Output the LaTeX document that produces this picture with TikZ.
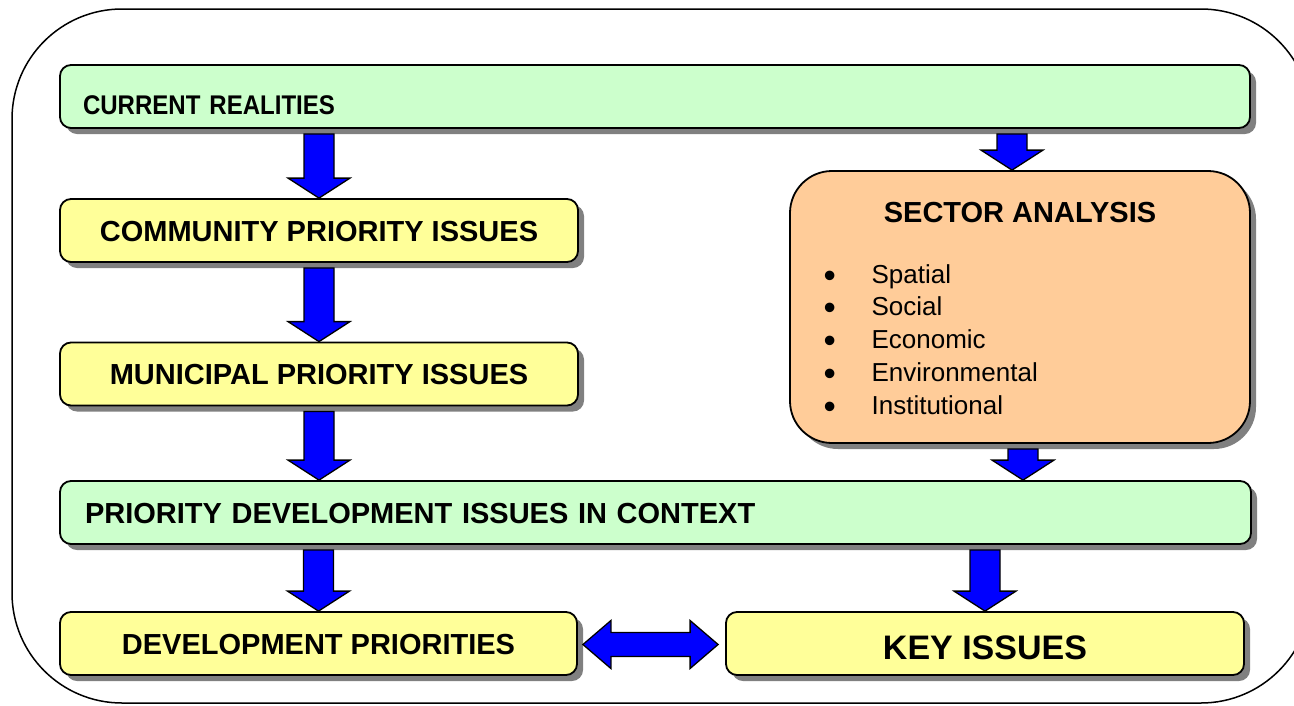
\documentclass[tikz,border=0pt]{standalone}
\usepackage{fontspec}
\setmainfont{Liberation Sans}
\newfontfamily\narrowfont[FakeStretch=0.89]{Liberation Sans}
\usetikzlibrary{calc,shadows}
\definecolor{boxgreen}{HTML}{CCFFCC}
\definecolor{boxyellow}{HTML}{FFFF99}
\definecolor{boxorange}{HTML}{FFCC99}
\definecolor{arrowblue}{HTML}{0000FF}
\definecolor{shadowgray}{HTML}{808080}
\newcommand\bigbullet{\raisebox{-4pt}{\fontsize{35}{35}\selectfont\textbullet}}
\tikzset{
  box/.style={draw=black, line width=1.8pt, rounded corners=11pt,
    inner xsep=0pt, inner ysep=0pt, minimum height=63pt,
    text height=21pt, text depth=0pt,
    font=\fontsize{29}{34}\selectfont\bfseries,
    drop shadow={shadow xshift=6pt, shadow yshift=-6pt, fill=shadowgray, opacity=1}},
  greenbox/.style={box, fill=boxgreen},
  yellowbox/.style={box, fill=boxyellow},
  sectorbox/.style={box, fill=boxorange, rounded corners=42pt},
  blockarrow/.style={draw=black, line width=1.3pt, fill=arrowblue, line join=miter},
  blockdown/.style={blockarrow, to path={
    let \p1=(\tikztostart), \p2=(\tikztotarget) in
    (\x1-15pt,\y1-5pt) -- (\x1-15pt,\y2+20pt) -- (\x1-31pt,\y2+20pt) -- (\x1,\y2)
    -- (\x1+31pt,\y2+20pt) -- (\x1+15pt,\y2+20pt) -- (\x1+15pt,\y1-5pt) -- cycle}},
  blockboth/.style={blockarrow, to path={
    let \p1=(\tikztostart), \p2=(\tikztotarget) in
    (\x1+5pt,\y1-1pt) -- (\x1+33pt,\y1+23pt) -- (\x1+33pt,\y1+11pt)
    -- (\x2-35pt,\y1+11pt) -- (\x2-35pt,\y1+23pt) -- (\x2-7pt,\y1-1pt)
    -- (\x2-35pt,\y1-25pt) -- (\x2-35pt,\y1-13pt) -- (\x1+33pt,\y1-13pt)
    -- (\x1+33pt,\y1-25pt) -- cycle}},
}
\begin{document}
\begin{tikzpicture}[x=1pt, y=-1pt]
\useasboundingbox (0,0) rectangle (1294,705);
% outer frame
\draw[line width=1.5pt, rounded corners=110pt] (12,9) rectangle (1311,703);

% boxes
\node[greenbox, minimum width=1190pt, text width=1144pt, inner xsep=23pt, align=left,
      text height=35pt, font=\fontsize{27}{32}\selectfont\narrowfont\bfseries]
      (cr) at (655,96.5) {CURRENT REALITIES};
\node[yellowbox, minimum width=518pt] (cc) at (319,230.5) {COMMUNITY PRIORITY ISSUES};
\node[yellowbox, minimum width=518pt] (mp) at (319,374) {MUNICIPAL PRIORITY ISSUES};
\node[greenbox, minimum width=1191pt, text width=1141pt, inner xsep=25pt, align=left]
      (pd) at (655.5,512.5) {PRIORITY DEVELOPMENT ISSUES IN CONTEXT};
\node[yellowbox, minimum width=517pt] (dp) at (318.5,643.5) {DEVELOPMENT PRIORITIES};
\node[yellowbox, minimum width=518pt, text height=31pt,
      font=\fontsize{34}{40}\selectfont\bfseries] (ki) at (985,643.5) {KEY ISSUES};
\node[sectorbox, minimum width=460pt, minimum height=272pt] (sa) at (1020,307) {};
\node[anchor=base, inner sep=0pt, font=\fontsize{29}{34}\selectfont\bfseries]
      (sat) at (1020,222) {SECTOR ANALYSIS};
\node[anchor=base west, inner sep=0pt, font=\fontsize{26}{32.75}\selectfont]
      (sal) at (823.4,283) {\begin{tabular}[t]{@{}l@{}l@{}}
        \makebox[48pt][l]{\bigbullet} & Spatial\\
        \makebox[48pt][l]{\bigbullet} & Social\\
        \makebox[48pt][l]{\bigbullet} & Economic\\
        \makebox[48pt][l]{\bigbullet} & Environmental\\
        \makebox[48pt][l]{\bigbullet} & Institutional
      \end{tabular}};

% connectors
\coordinate (sain) at ([xshift=-8pt]sa.north);
\coordinate (saout) at ([xshift=3pt]sa.south);
\draw[blockdown] (cr.south -| cc.north) to (cc.north);
\draw[blockdown] (cc.south) to (mp.north);
\draw[blockdown] (mp.south) to (mp.south |- pd.north);
\draw[blockdown] (dp.north |- pd.south) to (dp.north);
\draw[blockdown] (sain |- cr.south) to (sain);
\draw[blockdown] (saout) to (saout |- pd.north);
\draw[blockdown] (ki.north |- pd.south) to (ki.north);
\draw[blockboth] (dp.east) to (ki.west);
\end{tikzpicture}
\end{document}
